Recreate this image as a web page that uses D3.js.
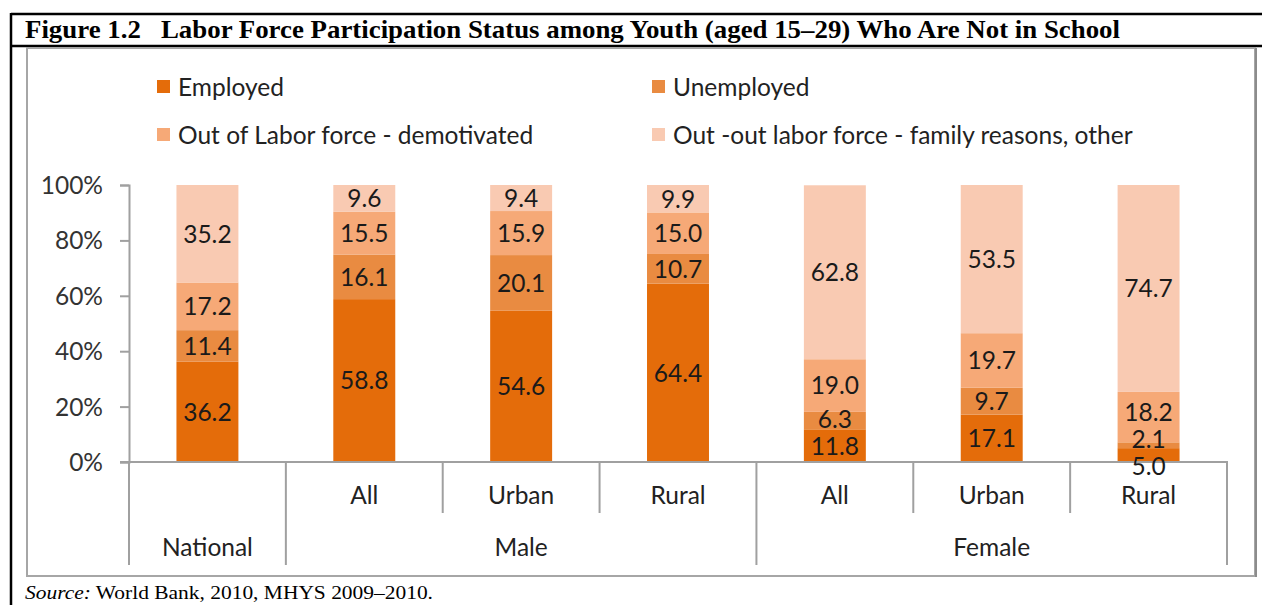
<!DOCTYPE html>
<html>
<head>
<meta charset="utf-8">
<script src="https://cdn.jsdelivr.net/npm/d3@7"></script>
<style>
  body { margin: 0; background: #fff; }
  svg { display: block; }
</style>
</head>
<body>
<svg id="chart" width="1262" height="605"></svg>
<script>
const categories = ['National', 'All', 'Urban', 'Rural', 'All', 'Urban', 'Rural'];
const subLabels = ['', 'All', 'Urban', 'Rural', 'All', 'Urban', 'Rural'];
const groups = [
  { name: 'National', from: 0, to: 1 },
  { name: 'Male', from: 1, to: 4 },
  { name: 'Female', from: 4, to: 7 }
];
const seriesNames = ['Employed', 'Unemployed', 'Out of Labor force - demotivated', 'Out -out labor force - family reasons, other'];
const employed = [36.2, 58.8, 54.6, 64.4, 11.8, 17.1, 5.0];
const unemployed = [11.4, 16.1, 20.1, 10.7, 6.3, 9.7, 2.1];
const demotivated = [17.2, 15.5, 15.9, 15.0, 19.0, 19.7, 18.2];
const familyOther = [35.2, 9.6, 9.4, 9.9, 62.8, 53.5, 74.7];
const yTicks = [0, 20, 40, 60, 80, 100];
const colors = ['#e46c0a', '#e98b41', '#f6a977', '#f9cab2'];

const FONT = 'Lato, "Open Sans", sans-serif';
const FS = 24.5;
const svg = d3.select('#chart');

// frame: black table borders + grey chart box
svg.append('line').attr('x1', 11).attr('x2', 1262).attr('y1', 14).attr('y2', 14)
  .attr('stroke', '#000').attr('stroke-width', 2.5);
svg.append('line').attr('x1', 11).attr('x2', 1262).attr('y1', 46).attr('y2', 46)
  .attr('stroke', '#000').attr('stroke-width', 2.5);
svg.append('line').attr('x1', 11).attr('x2', 11).attr('y1', 13).attr('y2', 605)
  .attr('stroke', '#000').attr('stroke-width', 2.5);
svg.append('rect').attr('x', 27).attr('y', 48).attr('width', 1228).attr('height', 528)
  .attr('fill', 'none').attr('stroke', '#a6a6a6').attr('stroke-width', 2);
svg.append('line').attr('x1', 1256).attr('x2', 1256).attr('y1', 48).attr('y2', 577)
  .attr('stroke', '#8c8c8c').attr('stroke-width', 2);

svg.append('text').attr('x', 25).attr('y', 38)
  .attr('font-family', '"Liberation Serif", "Times New Roman", serif')
  .attr('font-weight', 'bold').attr('font-size', 25)
  .attr('xml:space', 'preserve')
  .attr('textLength', 1095).attr('lengthAdjust', 'spacingAndGlyphs')
  .text('Figure 1.2   Labor Force Participation Status among Youth (aged 15\u201329) Who Are Not in School');

const src = svg.append('text').attr('x', 25).attr('y', 599)
  .attr('font-family', '"Liberation Serif", "Times New Roman", serif')
  .attr('font-size', 18).attr('fill', '#000')
  .attr('textLength', 408).attr('lengthAdjust', 'spacingAndGlyphs');
src.append('tspan').attr('font-style', 'italic').text('Source:');
src.append('tspan').text(' World Bank, 2010, MHYS 2009\u20132010.');

// scales
const x = d3.scaleBand().domain(d3.range(categories.length))
  .range([129, 1227]).paddingInner(0.605).paddingOuter(0.3025);
const y = d3.scaleLinear().domain([0, 100]).range([462, 185]);

// y axis
const yAxis = svg.append('g').attr('transform', 'translate(129,0)')
  .call(d3.axisLeft(y).tickValues(yTicks).tickSize(9).tickFormat(d => d + '%'));
yAxis.select('.domain').attr('stroke', '#a0a0a0').attr('stroke-width', 2);
yAxis.selectAll('.tick line').attr('stroke', '#a0a0a0').attr('stroke-width', 2);
yAxis.selectAll('.tick text').attr('font-family', FONT).attr('font-size', FS)
  .attr('fill', '#333').attr('x', -26).attr('dy', '0.35em');

// stacked bars
const table = categories.map((c, i) => ({
  i, v: [employed[i], unemployed[i], demotivated[i], familyOther[i]]
}));
const stack = d3.stack().keys([0, 1, 2, 3]).value((d, k) => d.v[k]);
const layers = stack(table);

const gBars = svg.append('g');
layers.forEach((layer, k) => {
  gBars.selectAll(null).data(layer).join('rect')
    .attr('x', d => x(d.data.i))
    .attr('width', x.bandwidth())
    .attr('y', d => y(d[1]))
    .attr('height', d => y(d[0]) - y(d[1]))
    .attr('fill', colors[k]);
});

// baseline + category dividers
const step = x.step();
const x0 = x.range()[0];
svg.append('line').attr('x1', 120).attr('x2', 1228).attr('y1', y(0)).attr('y2', y(0))
  .attr('stroke', '#a0a0a0').attr('stroke-width', 2);
const groupEdges = new Set();
groups.forEach(g => { groupEdges.add(g.from); groupEdges.add(g.to); });
d3.range(categories.length + 1).forEach(i => {
  const long = groupEdges.has(i);
  svg.append('line').attr('x1', x0 + i * step).attr('x2', x0 + i * step)
    .attr('y1', y(0)).attr('y2', long ? 565 : 513)
    .attr('stroke', '#a0a0a0').attr('stroke-width', 2);
});
svg.append('g').selectAll('text').data(subLabels).join('text')
  .attr('x', (d, i) => x(i) + x.bandwidth() / 2).attr('y', 504)
  .attr('text-anchor', 'middle').attr('font-family', FONT).attr('font-size', FS)
  .attr('fill', '#222').text(d => d);
svg.append('g').selectAll('text').data(groups).join('text')
  .attr('x', d => x0 + (d.from + d.to) / 2 * step).attr('y', 556)
  .attr('text-anchor', 'middle').attr('font-family', FONT).attr('font-size', FS)
  .attr('fill', '#222').text(d => d.name);

// value labels, pushed apart where segments are too thin
const MIN_GAP = 27;
table.forEach(row => {
  const pos = layers.map(l => (y(l[row.i][0]) + y(l[row.i][1])) / 2);
  for (let it = 0; it < 20; it++) {
    for (let k = 1; k < pos.length; k++) {
      const gap = pos[k - 1] - pos[k];
      if (gap < MIN_GAP) {
        const shift = (MIN_GAP - gap) / 2;
        pos[k - 1] += shift; pos[k] -= shift;
      }
    }
  }
  pos.forEach((p, k) => {
    svg.append('text').attr('x', x(row.i) + x.bandwidth() / 2).attr('y', p)
      .attr('dy', '0.36em').attr('text-anchor', 'middle')
      .attr('font-family', FONT).attr('font-size', FS).attr('fill', '#1a1a1a')
      .text(row.v[k].toFixed(1));
  });
});

// legend
const legendPos = [[157, 87], [652, 87], [157, 135], [652, 135]];
seriesNames.forEach((name, k) => {
  const g = svg.append('g').attr('transform', `translate(${legendPos[k][0]},${legendPos[k][1]})`);
  g.append('rect').attr('x', 0).attr('y', -7).attr('width', 13).attr('height', 13).attr('fill', colors[k]);
  g.append('text').attr('x', 21).attr('y', 0).attr('dy', '0.36em')
    .attr('font-family', FONT).attr('font-size', FS).attr('fill', '#222').text(name);
});
</script>
</body>
</html>
